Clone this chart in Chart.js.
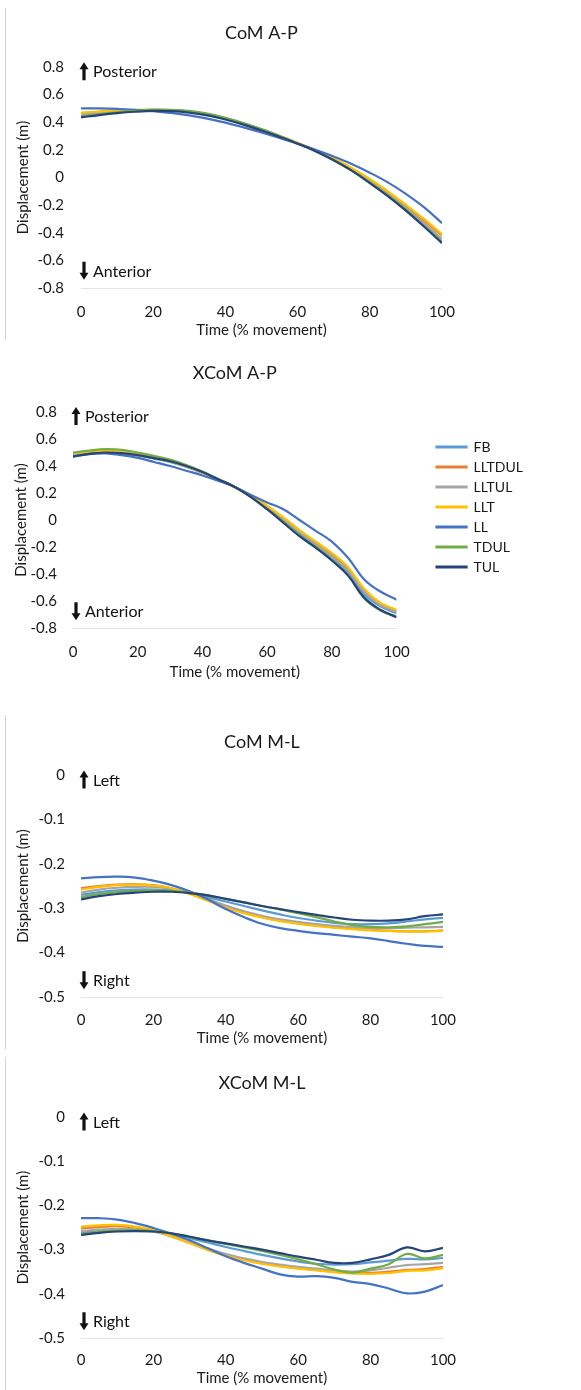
<!DOCTYPE html>
<html>
<head>
<meta charset="utf-8">
<script src="https://cdn.jsdelivr.net/npm/chart.js@4.4.0/dist/chart.umd.min.js"></script>
<style>
  body { margin: 0; background: #fff; }
  #page { position: relative; width: 581px; height: 1390px; overflow: hidden; }
  #page canvas { position: absolute; left: 0; }
  .edge { position: absolute; left: 5px; width: 1px; background: #d4d4d4; }
</style>
</head>
<body>
<div id="page">
  <div class="edge" style="top:8px;height:332px"></div>
  <div class="edge" style="top:715px;height:334px"></div>
  <div class="edge" style="top:1057px;height:333px"></div>
  <canvas id="comAP" width="470" height="340" style="top:0"></canvas>
  <canvas id="xcomAP" width="581" height="350" style="top:332px"></canvas>
  <canvas id="comML" width="470" height="360" style="top:690px"></canvas>
  <canvas id="xcomML" width="470" height="345" style="top:1045px"></canvas>
</div>
<script>
// time axis, % of movement
const pct = [0, 5, 10, 15, 20, 25, 30, 35, 40, 45, 50, 55, 60, 65, 70, 75, 80, 85, 90, 95, 100];

const seriesNames = ['FB', 'LLTDUL', 'LLTUL', 'LLT', 'LL', 'TDUL', 'TUL'];
const seriesColors = ['#5B9BD5', '#ED7D31', '#A5A5A5', '#FFC000', '#4472C4', '#70AD47', '#264478'];

// CoM A-P, one row per series (same order as seriesNames)
const comAP = [
  [0.45, 0.465, 0.477, 0.485, 0.489, 0.488, 0.478, 0.458, 0.428, 0.39, 0.347, 0.299, 0.248, 0.192, 0.128, 0.055, -0.03, -0.125, -0.23, -0.345, -0.465],   // FB
  [0.465, 0.475, 0.483, 0.488, 0.49, 0.487, 0.477, 0.457, 0.427, 0.39, 0.348, 0.301, 0.25, 0.195, 0.135, 0.065, -0.015, -0.105, -0.205, -0.31, -0.42], // LLTDUL
  [0.455, 0.47, 0.48, 0.487, 0.49, 0.488, 0.478, 0.458, 0.428, 0.391, 0.348, 0.3, 0.249, 0.193, 0.13, 0.058, -0.025, -0.118, -0.22, -0.33, -0.445],    // LLTUL
  [0.47, 0.478, 0.485, 0.489, 0.49, 0.487, 0.476, 0.456, 0.426, 0.389, 0.347, 0.3, 0.25, 0.196, 0.137, 0.068, -0.01, -0.1, -0.198, -0.3, -0.41],      // LLT
  [0.5, 0.5, 0.497, 0.49, 0.48, 0.468, 0.45, 0.426, 0.397, 0.363, 0.326, 0.287, 0.245, 0.2, 0.152, 0.098, 0.035, -0.035, -0.118, -0.215, -0.33],     // LL
  [0.44, 0.458, 0.472, 0.482, 0.489, 0.49, 0.482, 0.463, 0.433, 0.395, 0.35, 0.3, 0.247, 0.19, 0.125, 0.05, -0.035, -0.13, -0.235, -0.35, -0.465],     // TDUL
  [0.435, 0.452, 0.466, 0.476, 0.482, 0.48, 0.47, 0.45, 0.42, 0.383, 0.34, 0.294, 0.245, 0.19, 0.125, 0.05, -0.04, -0.135, -0.24, -0.355, -0.475]      // TUL
];

// XCoM A-P
const xcomAP = [
  [0.48, 0.5, 0.505, 0.495, 0.478, 0.455, 0.43, 0.395, 0.35, 0.298, 0.245, 0.175, 0.09, 0.0, -0.1, -0.19, -0.28, -0.385, -0.55, -0.64, -0.69],
  [0.49, 0.505, 0.51, 0.5, 0.485, 0.462, 0.435, 0.398, 0.352, 0.3, 0.245, 0.18, 0.1, 0.015, -0.08, -0.17, -0.255, -0.36, -0.52, -0.62, -0.67],
  [0.485, 0.5, 0.505, 0.497, 0.48, 0.457, 0.43, 0.395, 0.35, 0.298, 0.245, 0.177, 0.095, 0.005, -0.09, -0.18, -0.27, -0.375, -0.53, -0.63, -0.68],
  [0.495, 0.508, 0.512, 0.503, 0.487, 0.465, 0.438, 0.4, 0.353, 0.3, 0.245, 0.182, 0.105, 0.02, -0.075, -0.16, -0.245, -0.35, -0.51, -0.615, -0.665],
  [0.47, 0.488, 0.493, 0.48, 0.46, 0.43, 0.4, 0.365, 0.33, 0.29, 0.245, 0.185, 0.13, 0.08, 0.0, -0.08, -0.16, -0.28, -0.44, -0.53, -0.59],
  [0.5, 0.515, 0.525, 0.52, 0.5, 0.475, 0.447, 0.408, 0.36, 0.303, 0.245, 0.17, 0.08, -0.015, -0.115, -0.2, -0.295, -0.41, -0.58, -0.67, -0.715],
  [0.47, 0.49, 0.5, 0.495, 0.48, 0.458, 0.435, 0.4, 0.355, 0.3, 0.245, 0.17, 0.08, -0.02, -0.12, -0.205, -0.3, -0.41, -0.575, -0.665, -0.72]
];

// CoM M-L
const comML = [
  [-0.27, -0.264, -0.26, -0.258, -0.258, -0.26, -0.266, -0.275, -0.285, -0.295, -0.305, -0.314, -0.322, -0.328, -0.333, -0.336, -0.336, -0.334, -0.33, -0.325, -0.322],
  [-0.255, -0.25, -0.247, -0.246, -0.248, -0.255, -0.267, -0.282, -0.297, -0.31, -0.32, -0.328, -0.334, -0.339, -0.343, -0.346, -0.349, -0.351, -0.352, -0.352, -0.35],
  [-0.265, -0.258, -0.254, -0.252, -0.252, -0.256, -0.266, -0.279, -0.294, -0.307, -0.317, -0.325, -0.331, -0.336, -0.34, -0.343, -0.345, -0.345, -0.344, -0.343, -0.342],
  [-0.258, -0.252, -0.248, -0.247, -0.249, -0.255, -0.268, -0.283, -0.299, -0.311, -0.321, -0.329, -0.335, -0.34, -0.344, -0.347, -0.35, -0.351, -0.352, -0.352, -0.351],
  [-0.233, -0.23, -0.229, -0.231, -0.238, -0.248, -0.262, -0.28, -0.302, -0.32, -0.335, -0.345, -0.351, -0.356, -0.36, -0.364, -0.368, -0.374, -0.38, -0.385, -0.387],
  [-0.275, -0.268, -0.264, -0.261, -0.26, -0.261, -0.265, -0.271, -0.279, -0.287, -0.295, -0.303, -0.311, -0.32, -0.33, -0.338, -0.342, -0.343, -0.341, -0.336, -0.331],
  [-0.28, -0.273, -0.268, -0.265, -0.263, -0.263, -0.266, -0.271, -0.279, -0.287, -0.295, -0.302, -0.309, -0.315, -0.321, -0.326, -0.328, -0.328, -0.325, -0.318, -0.314]
];

// XCoM M-L
const xcomML = [
  [-0.262, -0.258, -0.256, -0.256, -0.259, -0.265, -0.274, -0.284, -0.294, -0.303, -0.312, -0.32, -0.327, -0.332, -0.334, -0.333, -0.329, -0.325, -0.321, -0.322, -0.319],
  [-0.252, -0.249, -0.247, -0.25, -0.257, -0.27, -0.285, -0.3, -0.313, -0.323, -0.331, -0.337, -0.342, -0.346, -0.35, -0.353, -0.353, -0.35, -0.346, -0.344, -0.339],
  [-0.258, -0.255, -0.253, -0.254, -0.259, -0.27, -0.283, -0.297, -0.31, -0.32, -0.328, -0.334, -0.339, -0.343, -0.347, -0.35, -0.347, -0.341, -0.335, -0.333, -0.33],
  [-0.248, -0.245, -0.244, -0.248, -0.256, -0.27, -0.285, -0.301, -0.314, -0.324, -0.332, -0.338, -0.343, -0.347, -0.351, -0.354, -0.355, -0.353, -0.348, -0.347, -0.342],
  [-0.229, -0.229, -0.232, -0.24, -0.251, -0.264, -0.279, -0.297, -0.315, -0.33, -0.343, -0.356, -0.361, -0.36, -0.364, -0.373, -0.378, -0.388, -0.399, -0.395, -0.38],
  [-0.265, -0.26, -0.257, -0.256, -0.258, -0.263, -0.271, -0.279, -0.287, -0.295, -0.303, -0.312, -0.322, -0.333, -0.345, -0.352, -0.343, -0.333, -0.31, -0.32, -0.312],
  [-0.267, -0.262, -0.259, -0.258, -0.259, -0.263, -0.271, -0.279, -0.286, -0.293, -0.3, -0.308, -0.316, -0.323, -0.33, -0.33, -0.322, -0.312, -0.295, -0.304, -0.296]
];

Chart.defaults.font.family = 'Lato';
Chart.defaults.color = '#1a1a1a';

function drawArrow(ctx, x, y, dir) {
  const tip = y + dir * 9, neck = tip - dir * 7, tail = y - dir * 9;
  ctx.beginPath();
  ctx.moveTo(x, tip);
  ctx.lineTo(x + 4.5, neck);
  ctx.lineTo(x + 1.6, neck);
  ctx.lineTo(x + 1.6, tail);
  ctx.lineTo(x - 1.6, tail);
  ctx.lineTo(x - 1.6, neck);
  ctx.lineTo(x - 4.5, neck);
  ctx.closePath();
  ctx.fill();
}

// "↑ Posterior" / "↓ Anterior" style labels next to the y axis
const dirLabels = {
  id: 'dirLabels',
  afterDraw(chart, args, o) {
    if (!o.up) return;
    const ctx = chart.ctx, a = chart.chartArea, ys = chart.scales.y;
    ctx.save();
    ctx.fillStyle = '#111';
    ctx.font = '16px Lato';
    ctx.textBaseline = 'middle';
    [[o.up, o.upAt, -1], [o.down, o.downAt, 1]].forEach(([text, v, dir]) => {
      const y = ys.getPixelForValue(v);
      drawArrow(ctx, a.left + 3, y, dir);
      ctx.fillText(text, a.left + 12, y + 1);
    });
    ctx.restore();
  }
};

function makeChart(id, values, g) {
  const tickFont = { family: 'Lato', size: 15 };
  const axisFont = { family: 'Lato', size: 15 };
  const half = 9; // half line height of 15px text
  const scales = {
    x: {
      type: 'linear', min: 0, max: 100,
      grid: { display: false, drawTicks: false },
      border: { display: true, color: '#e4e4e4', width: 1 },
      ticks: { stepSize: 20, padding: g.xTick - g.bottom - half, font: tickFont, maxRotation: 0 },
      title: { display: true, text: 'Time (% movement)', font: axisFont, padding: { top: 0, bottom: g.h - g.xTitle - half } },
      afterFit: s => { s.height = g.h - g.bottom; }
    },
    y: {
      min: g.ymin, max: g.ymax,
      grid: { display: false, drawTicks: false },
      border: { display: false },
      ticks: { stepSize: g.step, padding: g.left - g.yTick, font: tickFont },
      title: { display: true, text: 'Displacement (m)', font: axisFont, padding: { top: g.yTitle - half, bottom: 0 } },
      afterFit: s => { s.width = g.left; }
    }
  };
  if (g.legend) {
    // empty gap between plot and legend
    scales.y2 = {
      type: 'linear', position: 'right',
      grid: { display: false, drawTicks: false },
      border: { display: false },
      ticks: { display: false },
      afterFit: s => { s.width = g.gap; }
    };
  }

  return new Chart(document.getElementById(id), {
    type: 'line',
    data: {
      datasets: seriesNames.map((name, i) => ({
        label: name,
        data: pct.map((x, j) => ({ x: x, y: values[i][j] })),
        borderColor: seriesColors[i],
        backgroundColor: seriesColors[i],
        borderWidth: 2.2,
        pointRadius: 0,
        tension: 0.4,
        fill: false,
        order: -i
      }))
    },
    options: {
      responsive: false,
      animation: false,
      layout: { padding: { left: 0, top: 0, bottom: 0, right: g.padRight } },
      scales: scales,
      plugins: {
        title: {
          display: true, text: g.title, fullSize: false,
          font: { family: 'Lato', size: 18, weight: 'normal' },
          padding: { top: g.titleY - 10.8, bottom: g.top - g.titleY - 10.8 }
        },
        legend: {
          display: !!g.legend, position: 'right', align: 'center', maxWidth: 140,
          labels: {
            boxWidth: 30, boxHeight: 1, padding: 6,
            font: { family: 'Lato', size: 14 },
            sort: (a, b) => a.datasetIndex - b.datasetIndex
          }
        },
        tooltip: { enabled: false },
        dirLabels: g.dir
      }
    },
    plugins: [dirLabels]
  });
}

makeChart('comAP', comAP, {
  title: 'CoM A-P', h: 340, titleY: 33, top: 67, bottom: 288, left: 81, padRight: 27,
  xTick: 312, xTitle: 330, yTick: 64, yTitle: 23, ymin: -0.8, ymax: 0.8, step: 0.2,
  dir: { up: 'Posterior', upAt: 0.77, down: 'Anterior', downAt: -0.675 }
});

// canvas starts at y=332 on the page
makeChart('xcomAP', xcomAP, {
  title: 'XCoM A-P', h: 350, titleY: 41, top: 80, bottom: 296, left: 73, padRight: 48,
  xTick: 320, xTitle: 340, yTick: 57, yTitle: 21, ymin: -0.8, ymax: 0.8, step: 0.2,
  legend: true, gap: 34,
  dir: { up: 'Posterior', upAt: 0.77, down: 'Anterior', downAt: -0.675 }
});

makeChart('comML', comML, {
  title: 'CoM M-L', h: 360, titleY: 52, top: 85, bottom: 307, left: 81, padRight: 27,
  xTick: 330, xTitle: 348, yTick: 65, yTitle: 23, ymin: -0.5, ymax: 0, step: 0.1,
  dir: { up: 'Left', upAt: -0.01, down: 'Right', downAt: -0.462 }
});

makeChart('xcomML', xcomML, {
  title: 'XCoM M-L', h: 345, titleY: 38, top: 72, bottom: 293, left: 81, padRight: 27,
  xTick: 315, xTitle: 333, yTick: 65, yTitle: 23, ymin: -0.5, ymax: 0, step: 0.1,
  dir: { up: 'Left', upAt: -0.01, down: 'Right', downAt: -0.462 }
});
</script>
</body>
</html>
